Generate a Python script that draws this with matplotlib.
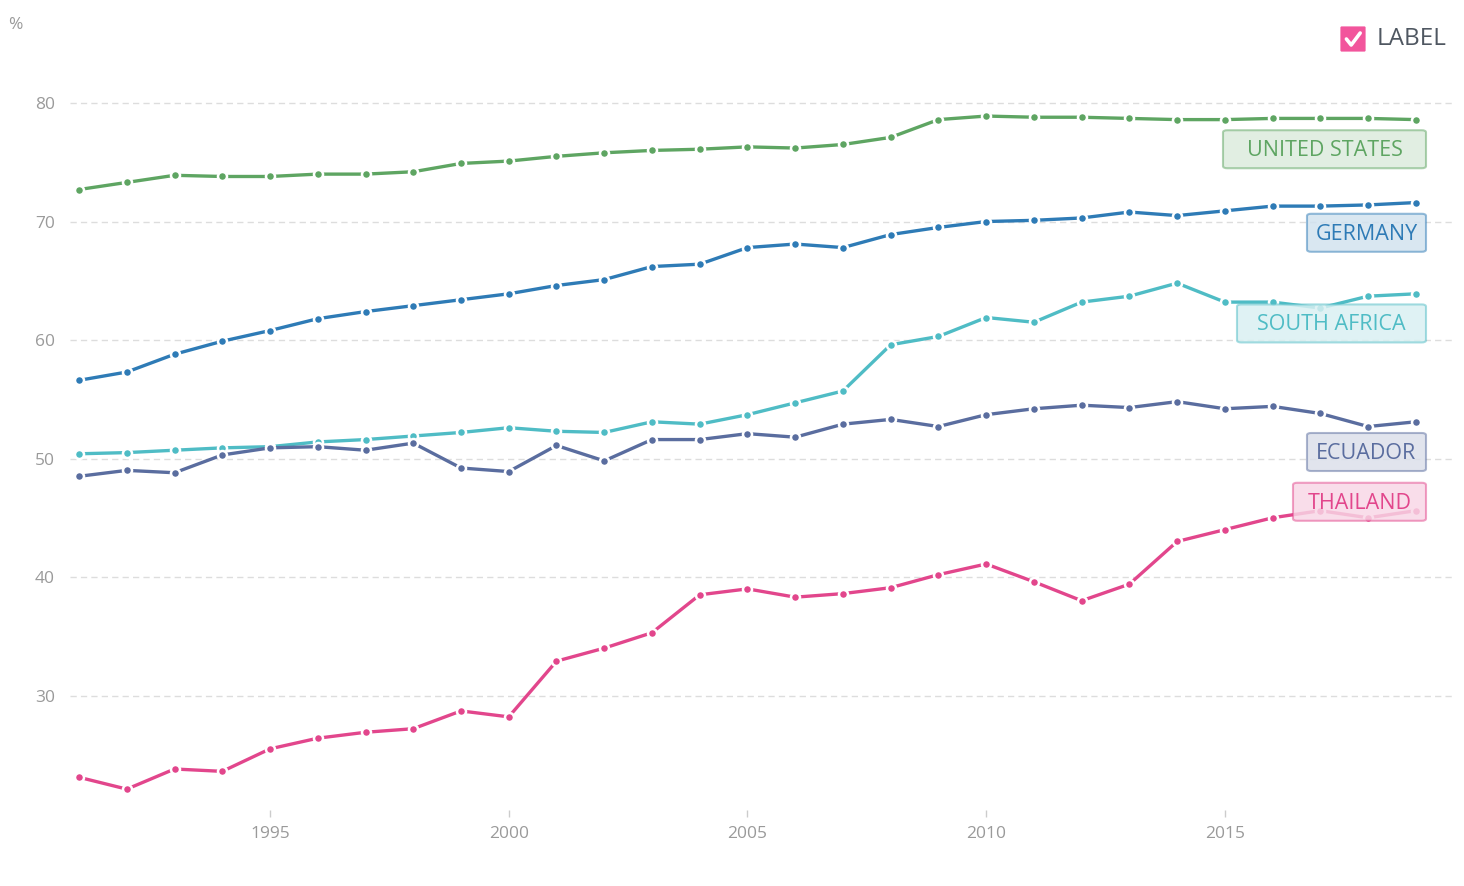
import matplotlib
matplotlib.use('Agg')
from matplotlib import pyplot as plt
from matplotlib.patches import FancyBboxPatch

plt.rcParams['font.family'] = ['Open Sans', 'DejaVu Sans']

years = list(range(1991, 2020))

united_states = [72.7, 73.3, 73.9, 73.8, 73.8, 74.0, 74.0, 74.2, 74.9, 75.1,
                 75.5, 75.8, 76.0, 76.1, 76.3, 76.2, 76.5, 77.1, 78.6, 78.9,
                 78.8, 78.8, 78.7, 78.6, 78.6, 78.7, 78.7, 78.7, 78.6]
germany = [56.6, 57.3, 58.8, 59.9, 60.8, 61.8, 62.4, 62.9, 63.4, 63.9,
           64.6, 65.1, 66.2, 66.4, 67.8, 68.1, 67.8, 68.9, 69.5, 70.0,
           70.1, 70.3, 70.8, 70.5, 70.9, 71.3, 71.3, 71.4, 71.6]
south_africa = [50.4, 50.5, 50.7, 50.9, 51.0, 51.4, 51.6, 51.9, 52.2, 52.6,
                52.3, 52.2, 53.1, 52.9, 53.7, 54.7, 55.7, 59.6, 60.3, 61.9,
                61.5, 63.2, 63.7, 64.8, 63.2, 63.2, 62.7, 63.7, 63.9]
ecuador = [48.5, 49.0, 48.8, 50.3, 50.9, 51.0, 50.7, 51.3, 49.2, 48.9,
           51.1, 49.8, 51.6, 51.6, 52.1, 51.8, 52.9, 53.3, 52.7, 53.7,
           54.2, 54.5, 54.3, 54.8, 54.2, 54.4, 53.8, 52.7, 53.1]
thailand = [23.1, 22.1, 23.8, 23.6, 25.5, 26.4, 26.9, 27.2, 28.7, 28.2,
            32.9, 34.0, 35.3, 38.5, 39.0, 38.3, 38.6, 39.1, 40.2, 41.1,
            39.6, 38.0, 39.4, 43.0, 44.0, 45.0, 45.6, 45.0, 45.6]

names = ['UNITED STATES', 'GERMANY', 'SOUTH AFRICA', 'ECUADOR', 'THAILAND']
series = [united_states, germany, south_africa, ecuador, thailand]
colors = ['#5ea562', '#2e7bb6', '#4fbcc5', '#5a6d9f', '#e2468c']

# label box layout (centre y in data units, box width in pixels)
label_y = [76.1, 69.05, 61.4, 50.55, 46.35]
label_w = [203, 119, 189, 119, 133]

ylo, yhi = 20.34, 83.63
xlo, xhi = 1990.81, 2019.82

fig = plt.figure(figsize=(14.64, 8.86), dpi=100)
ax = fig.add_axes([70 / 1464, 1 - 810 / 886, 1385 / 1464, 750 / 886])

for vals, col in zip(series, colors):
    ax.plot(years, vals, color=col, lw=2.4, marker='o', ms=6.5,
            mfc=col, mec='white', mew=1.8, zorder=3, solid_capstyle='butt')

ax.set_xlim(xlo, xhi)
ax.set_ylim(ylo, yhi)
ax.set_xticks([1995, 2000, 2005, 2010, 2015])
ax.set_yticks([30, 40, 50, 60, 70, 80])
ax.grid(axis='y', color='#dddddd', lw=1, dashes=(4.5, 3))
ax.set_axisbelow(True)
for s in ax.spines.values():
    s.set_visible(False)
ax.tick_params(axis='x', length=5, width=1, color='#cccccc', pad=6.5,
               labelsize=12.5, labelcolor='#9a9a9a')
ax.tick_params(axis='y', length=0, pad=11, labelsize=12.5, labelcolor='#9a9a9a')

# series labels at the right
right = (1426 - 70) / 1385
h = 41 / 750
for name, col, yv, w in zip(names, colors, label_y, label_w):
    yc = (yv - ylo) / (yhi - ylo)
    wa = w / 1385
    for fc in [(1, 1, 1, 0.8), (matplotlib.colors.to_rgb(col) + (0.18,))]:
        ax.add_patch(FancyBboxPatch((right - wa + 0.003, yc - h / 2 + 0.005), wa - 0.006, h - 0.01,
                                    boxstyle='round,pad=0.003', transform=ax.transAxes,
                                    fc=fc, ec='none', zorder=4))
    ax.add_patch(FancyBboxPatch((right - wa + 0.003, yc - h / 2 + 0.005), wa - 0.006, h - 0.01,
                                boxstyle='round,pad=0.003', transform=ax.transAxes,
                                fc='none', ec=matplotlib.colors.to_rgb(col) + (0.5,),
                                lw=1.5, zorder=5))
    ax.text(right - wa / 2, yc - 0.002, name, transform=ax.transAxes, ha='center', va='center',
            color=col, fontsize=15.5, zorder=6)

fig.text(8 / 1464, 1 - 25 / 886, '%', color='#9a9a9a', fontsize=12.5, va='center')

# legend checkbox
cax = fig.add_axes([1338 / 1464, 1 - 54 / 886, 30 / 1464, 30 / 886])
cax.set_xlim(0, 1)
cax.set_ylim(0, 1)
cax.axis('off')
cax.add_patch(FancyBboxPatch((0.12, 0.12), 0.76, 0.76, boxstyle='round,pad=0.04',
                             fc='#f2559c', ec='none'))
cax.plot([0.28, 0.44, 0.74], [0.5, 0.3, 0.7], color='white', lw=2.6,
         solid_capstyle='round', solid_joinstyle='round')
fig.text(1377 / 1464, 1 - 39 / 886, 'LABEL', color='#4f5761', fontsize=17.5, va='center')

fig.savefig('out.png', dpi=100)
